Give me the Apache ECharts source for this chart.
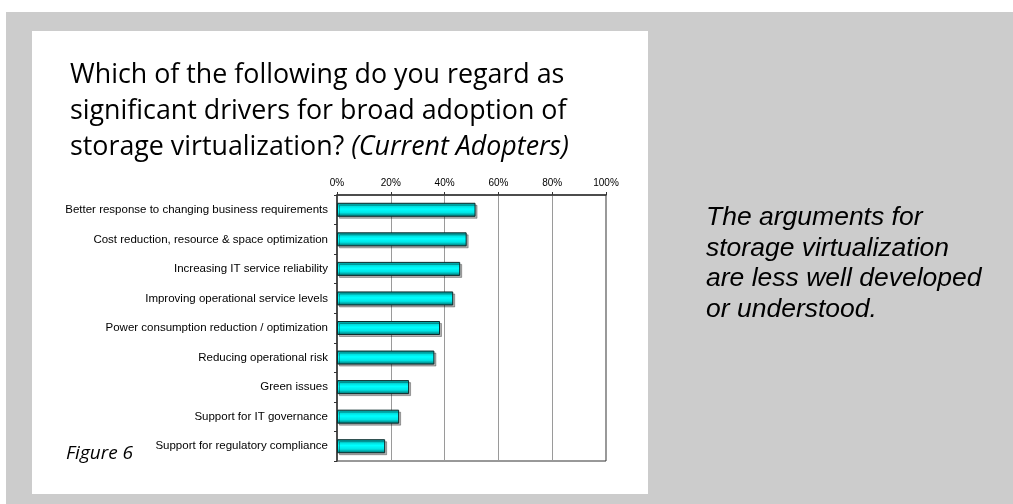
<!DOCTYPE html>
<html>
<head>
<meta charset="utf-8">
<script src="https://cdn.jsdelivr.net/npm/echarts@6/dist/echarts.min.js"></script>
<style>
html,body{margin:0;padding:0;background:#fff;}
#c{width:1013px;height:504px;}
</style>
</head>
<body>
<div id="c"></div>
<script>
const categories = [
  'Better response to changing business requirements',
  'Cost reduction, resource & space optimization',
  'Increasing IT service reliability',
  'Improving operational service levels',
  'Power consumption reduction / optimization',
  'Reducing operational risk',
  'Green issues',
  'Support for IT governance',
  'Support for regulatory compliance'
];
const values = [51.5, 48.2, 45.8, 43.2, 38.3, 36.2, 26.8, 23.1, 17.9];
const xTicks = [0, 20, 40, 60, 80, 100];
const titleLines = [
  'Which of the following do you regard as',
  'significant drivers for broad adoption of'
];
const titleLast = 'storage virtualization?';
const titleItalic = '(Current Adopters)';
const sideNote = [
  'The arguments for',
  'storage virtualization',
  'are less well developed',
  'or understood.'
];
const figureLabel = 'Figure 6';

const chart = echarts.init(document.getElementById('c'), null, {renderer: 'canvas'});

const titleFont = '"Open Sans", sans-serif';
const graphics = [
  {type: 'rect', z: -10, shape: {x: 6, y: 12, width: 1007, height: 492}, style: {fill: '#cccccc'}},
  {type: 'rect', z: -9, shape: {x: 32, y: 31, width: 616, height: 463}, style: {fill: '#ffffff'}}
];
titleLines.forEach((t, i) => {
  graphics.push({type: 'text', left: 70, top: 61.5 + i * 36.2, style: {text: t, font: '26.8px ' + titleFont, fill: '#000'}});
});
graphics.push({type: 'text', left: 70, top: 61.5 + 2 * 36.2, style: {
  text: '{n|' + titleLast + '\u00a0}{i|' + titleItalic + '}',
  rich: {
    n: {fontFamily: 'Open Sans', fontSize: 26.8, color: '#000'},
    i: {fontFamily: 'Open Sans', fontSize: 26.8, fontStyle: 'italic', color: '#000'}
  }
}});
sideNote.forEach((t, i) => {
  graphics.push({type: 'text', left: 706, top: 204.5 + i * 30.4, style: {text: t, font: 'italic 26.5px "Liberation Sans", Arial, sans-serif', fill: '#000'}});
});
graphics.push({type: 'text', left: 66, top: 444, style: {text: figureLabel, font: 'italic 19px ' + titleFont, fill: '#000'}});

chart.setOption({
  animation: false,
  backgroundColor: 'transparent',
  graphic: graphics,
  grid: {left: 337, right: 407, top: 195, bottom: 43, show: true, borderColor: '#333', borderWidth: 1, backgroundColor: 'transparent'},
  xAxis: {
    type: 'value', position: 'top', min: xTicks[0], max: xTicks[xTicks.length - 1], interval: xTicks[1] - xTicks[0],
    axisLabel: {formatter: '{value}%', fontSize: 10, color: '#000', fontFamily: 'Liberation Sans, Arial', margin: 7},
    axisLine: {show: true, lineStyle: {color: '#333', width: 1.5}},
    axisTick: {show: true, length: 3, lineStyle: {color: '#333'}},
    splitLine: {show: true, lineStyle: {color: '#9a9a9a', width: 1}}
  },
  yAxis: {
    type: 'category', inverse: true, data: categories,
    axisLabel: {fontSize: 11.5, color: '#000', fontFamily: 'Liberation Sans, Arial', margin: 9},
    axisLine: {show: true, lineStyle: {color: '#333', width: 1.5}},
    axisTick: {show: true, length: 3, alignWithLabel: false, lineStyle: {color: '#333'}},
    splitLine: {show: false}
  },
  series: [{
    type: 'bar', data: values, barWidth: 14,
    itemStyle: {
      color: new echarts.graphic.LinearGradient(0, 0, 0, 1, [
        {offset: 0, color: '#007878'},
        {offset: 0.2, color: '#00d4d4'},
        {offset: 0.45, color: '#00ffff'},
        {offset: 0.7, color: '#00e6e6'},
        {offset: 1, color: '#006464'}
      ]),
      borderColor: '#0b2b2b', borderWidth: 1,
      shadowColor: 'rgba(0,0,0,0.3)', shadowOffsetX: 2, shadowOffsetY: 2, shadowBlur: 0
    }
  }]
});
</script>
</body>
</html>
